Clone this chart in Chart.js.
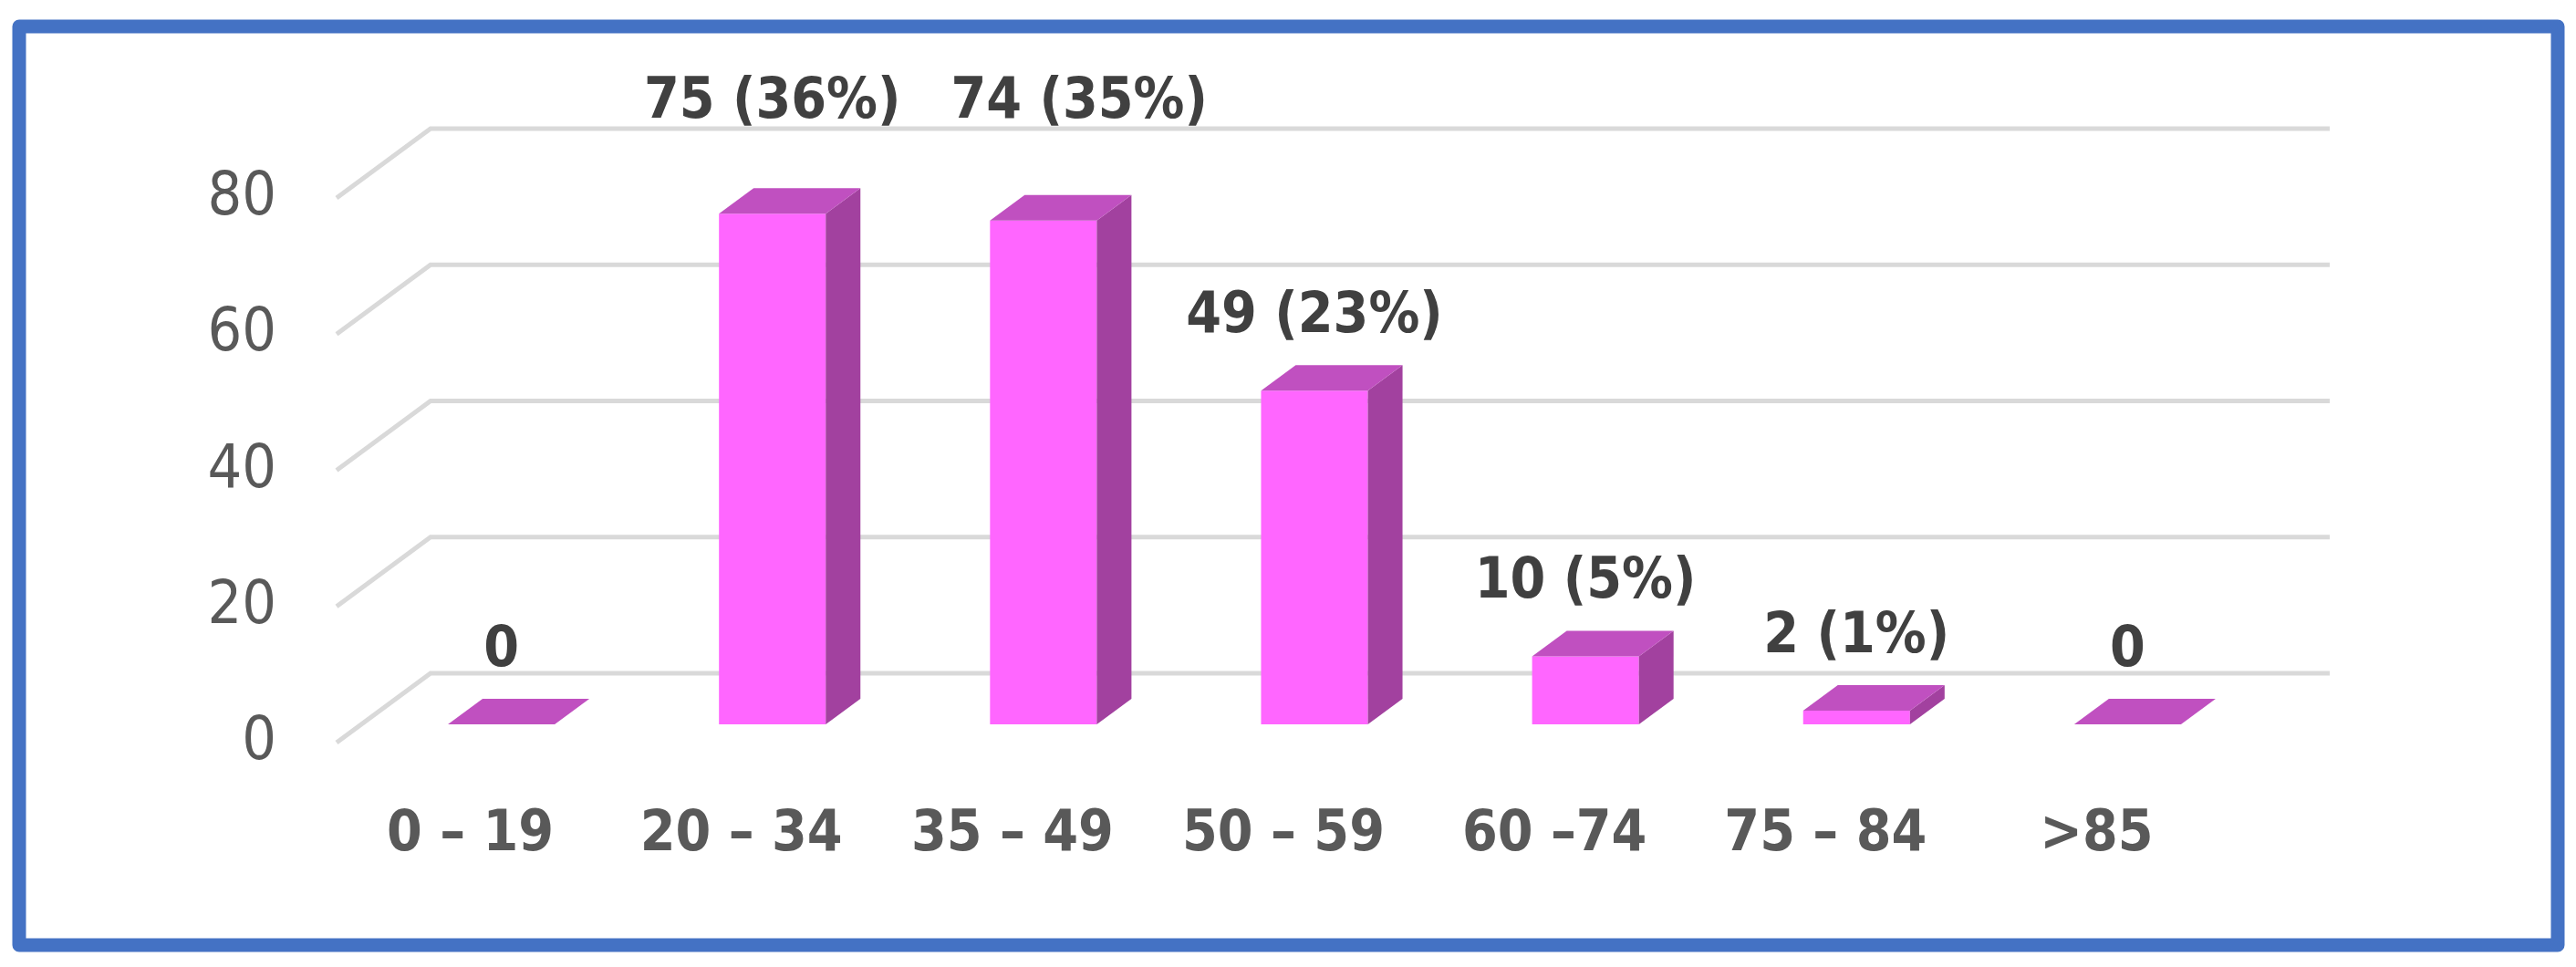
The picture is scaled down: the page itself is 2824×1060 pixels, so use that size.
<!DOCTYPE html>
<html>
<head>
<meta charset="utf-8">
<script src="https://cdn.jsdelivr.net/npm/chart.js@4.4.1/dist/chart.umd.min.js"></script>
<style>
  html, body { margin: 0; padding: 0; background: #ffffff; }
  #wrap { width: 2824px; height: 1060px; }
</style>
</head>
<body>
<div id="wrap"><canvas id="grafico"></canvas></div>
<script>
// Datos de la gráfica
const ageGroups = ['0 – 19', '20 – 34', '35 – 49', '50 – 59', '60 –74', '75 – 84', '>85'];
const patients = [0, 75, 74, 49, 10, 2, 0];
const shares = ['', '36%', '35%', '23%', '5%', '1%', ''];
const yTicks = [0, 20, 40, 60, 80];

// Colores de las caras de las barras
const frontColor = '#FF66FF';
const sideColor = '#A2419F';
const topColor = '#C050C0';

// profundidad de la barra y de la pared
const barDx = 38, barDy = 28;
const wallFront = 20, wallBack = 56;

const narrow = 'DejaVu Sans Condensed, DejaVu Sans, sans-serif';

// Marco azul
const frame = {
  id: 'frame',
  beforeDraw(chart) {
    const ctx = chart.ctx;
    ctx.save();
    ctx.fillStyle = '#ffffff';
    ctx.fillRect(0, 0, chart.width, chart.height);
    ctx.strokeStyle = '#4472C4';
    ctx.lineWidth = 15;
    ctx.lineJoin = 'round';
    ctx.strokeRect(21, 29, 2783, 1007);
    ctx.restore();
  }
};

// Rejilla con perspectiva
const grid3d = {
  id: 'grid3d',
  beforeDatasetsDraw(chart) {
    const ctx = chart.ctx;
    const y = chart.scales.y;
    const area = chart.chartArea;
    ctx.save();
    ctx.strokeStyle = '#D9D9D9';
    ctx.lineWidth = 5;
    yTicks.forEach(v => {
      const py = y.getPixelForValue(v);
      ctx.beginPath();
      ctx.moveTo(area.left - 32, py + wallFront);
      ctx.lineTo(area.left + 71, py - wallBack);
      ctx.lineTo(area.right + 73, py - wallBack);
      ctx.stroke();
    });
    ctx.restore();
  }
};

// Caras laterales, tapas y etiquetas
const bars3d = {
  id: 'bars3d',
  afterDatasetsDraw(chart) {
    const ctx = chart.ctx;
    const meta = chart.getDatasetMeta(0);
    let prevRight = -1e9, prevY = -1e9;
    ctx.save();
    meta.data.forEach((bar, i) => {
      const left = bar.x - bar.width / 2;
      const right = bar.x + bar.width / 2;
      const top = bar.y;
      const bottom = bar.base;

      ctx.fillStyle = sideColor;
      ctx.beginPath();
      ctx.moveTo(right, top);
      ctx.lineTo(right + barDx, top - barDy);
      ctx.lineTo(right + barDx, bottom - barDy);
      ctx.lineTo(right, bottom);
      ctx.closePath();
      ctx.fill();

      ctx.fillStyle = topColor;
      ctx.beginPath();
      ctx.moveTo(left, top);
      ctx.lineTo(left + barDx, top - barDy);
      ctx.lineTo(right + barDx, top - barDy);
      ctx.lineTo(right, top);
      ctx.closePath();
      ctx.fill();

      // las etiquetas altas se suben por encima de la última línea
      const v = patients[i];
      const txt = shares[i] ? v + ' (' + shares[i] + ')' : String(v);
      const ly = v > 70 ? chart.scales.y.getPixelForValue(80) - 84 : top - 80;
      ctx.fillStyle = '#404040';
      ctx.font = 'bold 62px ' + narrow;
      ctx.textAlign = 'center';
      ctx.textBaseline = 'middle';
      const w = ctx.measureText(txt).width;
      let lx = bar.x;
      // si choca con la anterior, se corre a la derecha
      if (Math.abs(ly - prevY) < 60 && lx - w / 2 < prevRight + 55) {
        lx = prevRight + 55 + w / 2;
      }
      ctx.fillText(txt, lx, ly);
      prevRight = lx + w / 2;
      prevY = ly;
    });
    ctx.restore();
  }
};

new Chart(document.getElementById('grafico'), {
  type: 'bar',
  data: {
    labels: ageGroups,
    datasets: [{
      data: patients,
      backgroundColor: frontColor,
      borderWidth: 0,
      barPercentage: 0.394,
      categoryPercentage: 1
    }]
  },
  options: {
    responsive: true,
    maintainAspectRatio: false,
    animation: false,
    layout: { padding: { left: 101, right: 343, top: 197, bottom: 66 } },
    plugins: {
      legend: { display: false },
      tooltip: { enabled: false }
    },
    scales: {
      x: {
        grid: { display: false, drawTicks: false },
        border: { display: false },
        afterFit: s => { s.height = 200; },
        ticks: {
          color: '#595959',
          padding: 85,
          labelOffset: -34,
          maxRotation: 0,
          font: { family: narrow, size: 62, weight: 'bold' }
        }
      },
      y: {
        min: 0,
        max: 80,
        grid: { display: false, drawTicks: false },
        border: { display: false },
        afterFit: s => { s.width = 300; },
        afterBuildTicks: s => { s.ticks = yTicks.map(v => ({ value: v })); },
        ticks: {
          color: '#595959',
          padding: 98,
          labelOffset: 21,
          font: { family: narrow, size: 66 }
        }
      }
    }
  },
  plugins: [frame, grid3d, bars3d]
});
</script>
</body>
</html>
